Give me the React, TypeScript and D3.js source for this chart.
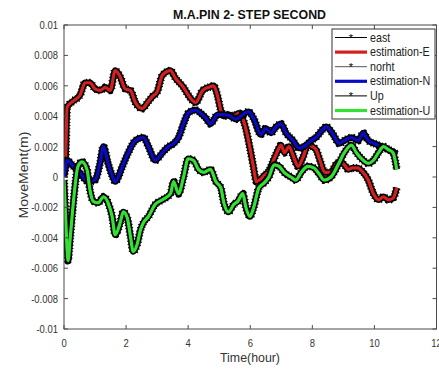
import React from "react";
import * as d3 from "d3";

// ---- data (time in hours, movement in metres) ----
const tE = [0, 0.05, 0.1, 0.3, 0.52, 0.68, 0.84, 1.0, 1.17, 1.33, 1.49, 1.65, 1.81, 1.97, 2.14, 2.3, 2.52, 2.69, 2.85, 3.0, 3.17, 3.43, 3.59, 3.85, 4.0, 4.24, 4.47, 4.66, 4.82, 4.95, 5.05, 5.15, 5.3, 5.47, 5.63, 5.8, 5.9, 6.0, 6.1, 6.2, 6.3, 6.45, 6.6, 6.77, 6.9, 6.99, 7.1, 7.25, 7.4, 7.54, 7.7, 7.86, 8.0, 8.12, 8.26, 8.4, 8.6, 8.75, 8.9, 9.03, 9.16, 9.3, 9.45, 9.64, 9.8, 9.97, 10.13, 10.29, 10.45, 10.6, 10.72];
const estimationE = [0.0002, 0.0012, 0.0046, 0.005, 0.0054, 0.0062, 0.0062, 0.0058, 0.0057, 0.0059, 0.0057, 0.007, 0.0066, 0.0058, 0.0057, 0.0049, 0.0045, 0.0049, 0.0053, 0.0056, 0.0067, 0.007, 0.0065, 0.0059, 0.0054, 0.0049, 0.0057, 0.0059, 0.006, 0.0053, 0.0044, 0.004, 0.0041, 0.004, 0.0042, 0.0036, 0.0028, 0.0018, 0.0007, -0.0003, -0.0002, 0.0001, 0.0004, 0.0012, 0.0018, 0.0021, 0.0016, 0.002, 0.0013, 0.0007, 0.0013, 0.0021, 0.002, 0.0018, 0.001, 0.0003, 0.0003, 0.0008, 0.001, 0.0008, 0.0005, 0.0006, 0.0006, 0.0003, -0.0002, -0.0011, -0.0015, -0.0013, -0.0015, -0.0014, -0.0007];

const tN = [0, 0.05, 0.1, 0.3, 0.5, 0.78, 1.0, 1.15, 1.27, 1.42, 1.55, 1.65, 1.88, 2.07, 2.3, 2.56, 2.72, 2.94, 3.17, 3.37, 3.53, 3.69, 3.85, 4.0, 4.24, 4.4, 4.56, 4.72, 4.95, 5.15, 5.37, 5.53, 5.76, 5.95, 6.12, 6.34, 6.5, 6.67, 6.83, 6.99, 7.15, 7.38, 7.57, 7.8, 7.96, 8.12, 8.28, 8.45, 8.67, 8.87, 9.03, 9.26, 9.48, 9.64, 9.8, 10.0, 10.23, 10.45, 10.65, 10.72];
const estimationN = [0, 0.0006, 0.0011, 0.0007, 0.0003, -0.0003, -0.0002, 0.0008, 0.002, 0.0009, 0.0001, -0.0003, 0.0007, 0.0016, 0.0024, 0.0026, 0.002, 0.0011, 0.0016, 0.002, 0.0022, 0.0026, 0.0035, 0.0042, 0.0044, 0.0042, 0.0039, 0.0035, 0.0041, 0.0041, 0.004, 0.0038, 0.0041, 0.0043, 0.0038, 0.0028, 0.0032, 0.0029, 0.0033, 0.0035, 0.0029, 0.0024, 0.0019, 0.0021, 0.0024, 0.0026, 0.003, 0.0033, 0.0028, 0.0022, 0.0024, 0.0026, 0.0024, 0.0029, 0.0024, 0.0022, 0.002, 0.0018, 0.0016, 0.0015];

const tU = [0, 0.05, 0.1, 0.13, 0.2, 0.3, 0.45, 0.58, 0.74, 0.84, 0.94, 1.1, 1.27, 1.42, 1.55, 1.65, 1.81, 1.91, 2.04, 2.14, 2.23, 2.36, 2.46, 2.56, 2.72, 2.94, 3.17, 3.43, 3.53, 3.69, 3.85, 4.0, 4.17, 4.33, 4.5, 4.6, 4.72, 4.89, 5.05, 5.15, 5.3, 5.47, 5.6, 5.76, 5.86, 5.99, 6.11, 6.28, 6.44, 6.6, 6.77, 6.93, 7.09, 7.31, 7.47, 7.64, 7.86, 8.05, 8.22, 8.38, 8.6, 8.83, 9.03, 9.26, 9.42, 9.64, 9.8, 9.97, 10.13, 10.29, 10.45, 10.6, 10.72];
const estimationU = [-0.0002, -0.0025, -0.0048, -0.0055, -0.004, -0.0017, 0.0007, 0.001, 0.0005, -0.0009, -0.0016, -0.0017, -0.0013, -0.0017, -0.0026, -0.0038, -0.003, -0.0023, -0.0027, -0.0039, -0.0049, -0.0044, -0.0035, -0.003, -0.0026, -0.0018, -0.0015, -0.0011, -0.0003, -0.0011, 0, 0.0012, 0.0011, 0.0005, 0.0003, 0.0004, 0.0005, -0.0003, -0.0007, -0.0017, -0.0023, -0.0018, -0.0016, -0.0011, -0.002, -0.0026, -0.002, -0.0007, -0.0004, 0, 0.0008, 0.0007, 0.0003, 0, -0.0002, 0.0003, 0.0007, 0.0006, 0.0002, -0.0002, 0, 0.0008, 0.0016, 0.0021, 0.0016, 0.0011, 0.0009, 0.0011, 0.0016, 0.002, 0.0018, 0.0016, 0.0005];

// observed series (black star markers) follow the estimates
const east = estimationE;
const norht = estimationN;
const up = estimationU;

const xTicks = [0, 2, 4, 6, 8, 10, 12];
const yTicks = [-0.01, -0.008, -0.006, -0.004, -0.002, 0, 0.002, 0.004, 0.006, 0.008, 0.01];
const yTickLabels = ["-0.01", "-0.008", "-0.006", "-0.004", "-0.002", "0", "0.002", "0.004", "0.006", "0.008", "0.01"];
const legendLabels = ["east", "estimation-E", "norht", "estimation-N", "Up", "estimation-U"];

const FONT = "'Liberation Sans', Arial, Helvetica, sans-serif";
const AX = "#4a4a4a";

export default function App() {
  const W = 439, H = 370;
  const L = 64, R = 436.5, T = 25, B = 329;
  const x = d3.scaleLinear().domain([0, 12]).range([L, R]);
  const y = d3.scaleLinear().domain([-0.01, 0.01]).range([B, T]);
  const mk = (ts: number[]) =>
    d3.line<number>().x((_, i) => x(ts[i])).y((d) => y(d)).curve(d3.curveMonotoneX);

  const series = [
    { t: tE, obs: east, est: estimationE, color: "#d21f1f" },
    { t: tN, obs: norht, est: estimationN, color: "#0a0ac0" },
    { t: tU, obs: up, est: estimationU, color: "#35e035" },
  ];
  const legendColors = ["#000", "#d21f1f", "#555", "#0a0ac0", "#000", "#35e035"];
  const sx = 0.86;

  return (
    <svg width={W} height={H} style={{ position: "absolute", left: 0, top: 0, background: "#fff" }}>
      <rect x={0} y={0} width={W} height={H} fill="#fff" />
      <defs>
        <clipPath id="plot">
          <rect x={L} y={T} width={R - L} height={B - T} />
        </clipPath>
      </defs>
      <g clipPath="url(#plot)">
        {series.map((s, i) => (
          <g key={i}>
            <path d={mk(s.t)(s.obs) || ""} fill="none" stroke="#000" strokeWidth={6.5} strokeLinejoin="round" />
            <path d={mk(s.t)(s.obs) || ""} fill="none" stroke="#000" strokeWidth={8} strokeDasharray="1 2.2" strokeLinejoin="round" />
            <path d={mk(s.t)(s.est) || ""} fill="none" stroke={s.color} strokeWidth={3.2} strokeLinejoin="round" />
          </g>
        ))}
      </g>
      {/* axes box */}
      <rect x={L} y={T} width={R - L} height={B - T} fill="none" stroke={AX} strokeWidth={1} />
      {xTicks.map((v) => (
        <g key={"x" + v}>
          <line x1={x(v)} x2={x(v)} y1={B} y2={B - 4} stroke={AX} />
          <line x1={x(v)} x2={x(v)} y1={T} y2={T + 4} stroke={AX} />
          <g transform={`translate(${x(v)},347) scale(${sx},1)`}>
            <text textAnchor="middle" fontFamily={FONT} fontSize={11} fill="#333">{v}</text>
          </g>
        </g>
      ))}
      {yTicks.map((v, i) => (
        <g key={"y" + i}>
          <line x1={L} x2={L + 4} y1={y(v)} y2={y(v)} stroke={AX} />
          <line x1={R} x2={R - 4} y1={y(v)} y2={y(v)} stroke={AX} />
          <g transform={`translate(58,${y(v) + 4}) scale(${sx},1)`}>
            <text textAnchor="end" fontFamily={FONT} fontSize={11} fill="#333">{yTickLabels[i]}</text>
          </g>
        </g>
      ))}
      {/* title & labels */}
      <text x={249.5} y={18.5} textAnchor="middle" fontFamily={FONT} fontSize={12} fontWeight="bold" fill="#111" textLength={153} lengthAdjust="spacingAndGlyphs">
        M.A.PIN 2- STEP SECOND
      </text>
      <text x={250} y={362} textAnchor="middle" fontFamily={FONT} fontSize={13} fill="#333" textLength={60} lengthAdjust="spacingAndGlyphs">
        Time(hour)
      </text>
      <text transform="translate(28,175) rotate(-90)" textAnchor="middle" fontFamily={FONT} fontSize={13} fill="#333" textLength={87} lengthAdjust="spacingAndGlyphs">
        MoveMent(m)
      </text>
      {/* legend */}
      <rect x={332} y={29} width={103} height={90} fill="#fff" stroke="#333" strokeWidth={1} />
      {legendLabels.map((lab, i) => {
        const ly = 37.5 + i * 14.6;
        const isObs = i % 2 === 0;
        return (
          <g key={lab}>
            <line x1={335} x2={367} y1={ly} y2={ly} stroke={legendColors[i]} strokeWidth={isObs ? 1 : 3.2} />
            {isObs && (
              <text x={351} y={ly + 4.2} textAnchor="middle" fontFamily={FONT} fontSize={11} fill="#000">*</text>
            )}
            <g transform={`translate(370,${ly + 4}) scale(${sx},1)`}>
              <text fontFamily={FONT} fontSize={12.5} fill="#222">{lab}</text>
            </g>
          </g>
        );
      })}
    </svg>
  );
}
